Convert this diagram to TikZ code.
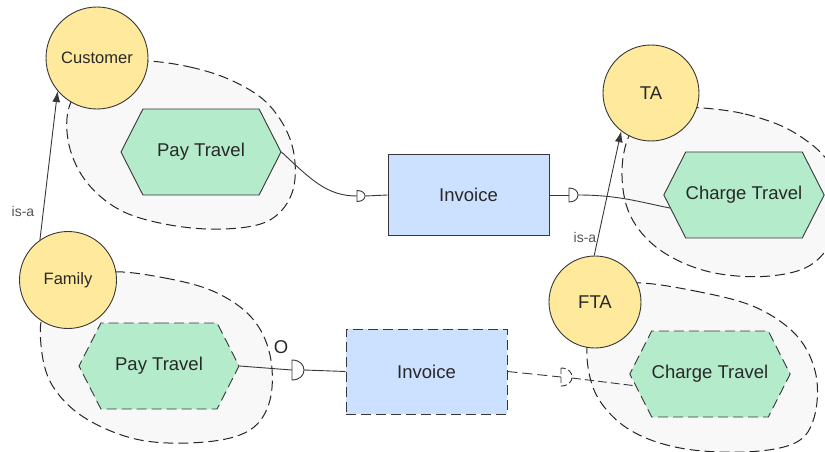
\documentclass[tikz,border=0pt]{standalone}
\usepackage{fontspec}
\setmainfont{Liberation Sans}
\usetikzlibrary{shapes.symbols,calc,arrows.meta}
\definecolor{cyel}{RGB}{255,233,156}
\definecolor{cgrn}{RGB}{180,235,202}
\definecolor{cblu}{RGB}{204,224,255}
\definecolor{cblob}{RGB}{248,248,248}
\definecolor{cline}{RGB}{55,55,55}
\definecolor{ctxt}{RGB}{40,40,40}
\tikzset{
  dsh/.style={dash pattern=on 10pt off 5pt},
  blob/.style={draw=black!85, fill=cblob, line width=1pt, dsh},
  actor/.style={circle, draw=cline, fill=cyel, line width=0.9pt, inner sep=0pt, text=ctxt},
  task/.style={signal, signal to=west and east, signal pointer angle=126, draw=cline, fill=cgrn,
     line width=0.9pt, minimum width=160pt, minimum height=86pt, inner sep=0pt, text=ctxt, font=\fontsize{18.5}{20}\selectfont},
  res/.style={rectangle, draw=cline, fill=cblu, line width=0.9pt, minimum width=161pt, inner sep=0pt, text=ctxt, font=\fontsize{18.5}{20}\selectfont},
  conn/.style={draw=cline, line width=0.9pt},
  sym/.style={draw=cline, fill=white, line width=0.9pt},
  lbl/.style={text=ctxt!80, font=\fontsize{14}{15}\selectfont, inner sep=0pt},
}
\begin{document}
\begin{tikzpicture}[x=1pt,y=-1pt]
\useasboundingbox (0,0) rectangle (825,452);
% boundaries
\draw[blob] plot[smooth cycle, tension=0.6] coordinates {(140,61) (190,67) (235,82) (270,106) (292,145) (293,190) (270,220) (225,229) (170,225) (120,210) (85,180) (68,140) (72,100) (105,70)};
\draw[blob] plot[smooth cycle, tension=0.6] coordinates {(690,107) (745,114) (795,133) (832,168) (838,222) (815,262) (770,276) (710,272) (660,250) (630,215) (622,170) (632,130) (660,108)};
\draw[blob] plot[smooth cycle, tension=0.6] coordinates {(110,272) (165,278) (215,292) (252,318) (270,355) (270,400) (250,430) (205,442) (140,440) (85,418) (52,385) (41,345) (45,310) (75,285)};
\draw[blob] plot[smooth cycle, tension=0.6] coordinates {(635,283) (695,291) (755,307) (797,336) (816,375) (814,418) (795,443) (745,452) (680,448) (630,430) (598,398) (587,358) (592,320) (610,295)};
% actors
\node[actor, minimum size=102pt, font=\fontsize{16.5}{18}\selectfont] (cust) at (97,58) {Customer};
\node[actor, minimum size=97pt, font=\fontsize{16.5}{18}\selectfont] (fam) at (68,280) {Family};
\node[actor, minimum size=96pt, font=\fontsize{18.5}{20}\selectfont] (ta) at (651,93) {TA};
\node[actor, minimum size=92pt, font=\fontsize{18.5}{20}\selectfont] (fta) at (595,302) {FTA};
% tasks
\node[task] (pt1) at (201,152) {Pay Travel};
\node[task] (ct1) at (744,195) {Charge Travel};
\node[task, dsh] (pt2) at (159,366) {Pay Travel};
\node[task, dsh] (ct2) at (710,374) {Charge Travel};
% resources
\node[res, minimum height=81pt] (inv1) at (468.5,195) {Invoice};
\node[res, minimum height=85pt, dsh] (inv2) at (426.5,371.5) {Invoice};
% symbol positions
\coordinate (d1) at (357,196); \coordinate (d1t) at (365,196);
\coordinate (d2) at (569,195); \coordinate (d2t) at (578,195);
\coordinate (d3) at (292,370); \coordinate (d3t) at (304,370);
\coordinate (d4) at (561,377); \coordinate (d4t) at (572,378);
% connectors
\draw[conn] (pt1.east) .. controls +(30,28) and +(-30,0) .. (d1);
\draw[conn] (d1t) -- (inv1.west);
\draw[conn] (inv1.east) -- (d2);
\draw[conn] (d2t) .. controls +(40,0) and +(-30,-6) .. (ct1.190);
\draw[conn] (pt2.east) -- (d3);
\draw[conn] (d3t) -- (inv2.west);
\draw[conn, dsh] (inv2.east) -- (d4);
\draw[conn, dash pattern=on 9pt off 4pt] (d4t) -- (ct2.189);
% D symbols
\draw[sym] ($(d1)+(0,-5.5)$) -- ($(d1)+(0,5.5)$) .. controls +(10.7,0) and +(10.7,0) .. ($(d1)+(0,-5.5)$) -- cycle;
\draw[sym] ($(d2)+(0,-7)$) -- ($(d2)+(0,7)$) .. controls +(12,0) and +(12,0) .. ($(d2)+(0,-7)$) -- cycle;
\draw[sym] ($(d3)+(0,-10)$) -- ($(d3)+(0,10)$) .. controls +(16,0) and +(16,0) .. ($(d3)+(0,-10)$) -- cycle;
\draw[sym, dash pattern=on 6pt off 3pt] ($(d4)+(0,-9)$) -- ($(d4)+(0,9)$) .. controls +(14.7,0) and +(14.7,0) .. ($(d4)+(0,-9)$) -- cycle;
% is-a links
\draw[conn, -{Latex[length=11pt,width=8pt]}] (fam.125.7) -- (cust.220.4);
\draw[conn, -{Latex[length=11pt,width=8pt]}] (fta.91) -- (ta.232);
\node[lbl] (l1) at (23,211) {is-a};
\node[lbl] (l2) at (585,237) {is-a};
\node[text=ctxt, font=\fontsize{18.5}{20}\selectfont, inner sep=0pt] (o) at (281,347) {O};
\end{tikzpicture}
\end{document}
